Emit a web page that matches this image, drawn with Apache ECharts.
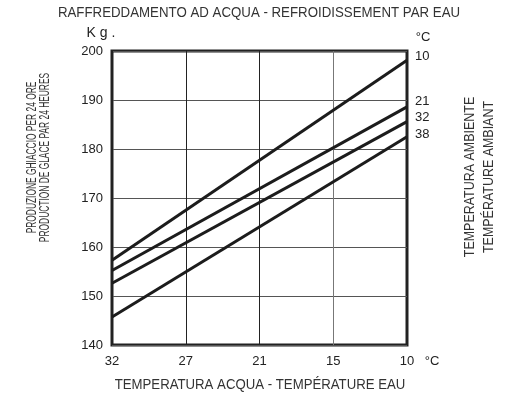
<!DOCTYPE html>
<html><head><meta charset="utf-8">
<script src="https://cdn.jsdelivr.net/npm/echarts@6/dist/echarts.min.js"></script>
<style>html,body{margin:0;padding:0;background:#fff}#c{width:507px;height:399px}</style>
</head><body><div id="c"></div>
<script>
var xTicks = [32, 27, 21, 15, 10];
var ambient = ['10', '21', '32', '38'];
var at32 = [157.3, 155.2, 152.6, 145.7];
var at10 = [198.1, 188.6, 185.6, 182.5];
var yTicks = [140, 150, 160, 170, 180, 190, 200];

var reg = '"Liberation Sans", Arial, sans-serif';
var offs = [[0,-4],[0,-5],[0,-4],[0,-2]];
var series = ambient.map(function (name, i) {
  return {
    name: name, type: 'line', showSymbol: false, symbol: 'none',
    lineStyle: { color: '#1c1c1c', width: 3 },
    data: [[xTicks.indexOf(32), at32[i]], [xTicks.indexOf(10), at10[i]]],
    endLabel: { show: true, formatter: name, color: '#222', fontFamily: reg, fontSize: 13, distance: 8, offset: offs[i] },
    silent: true, animation: false
  };
});
var chart = echarts.init(document.getElementById('c'));
chart.setOption({
  animation: false,
  grid: { left: 112, right: 100, top: 51, bottom: 54, show: true, borderColor: '#222', borderWidth: 3, backgroundColor: 'transparent' },
  xAxis: {
    type: 'value', min: 0, max: 4, interval: 1,
    axisLine: { show: false }, axisTick: { show: false },
    axisLabel: { color: '#222', fontFamily: reg, fontSize: 13, margin: 10, formatter: function (v) { return xTicks[v]; } },
    splitLine: { show: true, lineStyle: { color: ['#222', '#222', '#222', '#777', '#222'], width: 1 } }
  },
  yAxis: {
    type: 'value', min: yTicks[0], max: yTicks[yTicks.length - 1], interval: 10,
    axisLine: { show: false }, axisTick: { show: false },
    axisLabel: { color: '#222', fontFamily: reg, fontSize: 13, margin: 9 },
    splitLine: { show: true, lineStyle: { color: '#555', width: 1.2 } }
  },
  series: series,
  graphic: [
    { type: 'text', x: 259, y: 13, scaleX: 0.885, style: { text: 'RAFFREDDAMENTO AD ACQUA - REFROIDISSEMENT PAR EAU', font: '15px ' + reg, fill: '#333', textAlign: 'center', textVerticalAlign: 'middle' } },
    { type: 'text', x: 101, y: 33, style: { text: 'K g .', font: '14px ' + reg, fill: '#222', textAlign: 'center', textVerticalAlign: 'middle' } },
    { type: 'text', x: 423, y: 37, style: { text: '°C', font: '13px ' + reg, fill: '#222', textAlign: 'center', textVerticalAlign: 'middle' } },
    { type: 'text', x: 432, y: 361, style: { text: '°C', font: '13px ' + reg, fill: '#222', textAlign: 'center', textVerticalAlign: 'middle' } },
    { type: 'text', x: 260, y: 385, scaleX: 0.88, style: { text: 'TEMPERATURA ACQUA - TEMPÉRATURE EAU', font: '15px ' + reg, fill: '#333', textAlign: 'center', textVerticalAlign: 'middle' } },
    { type: 'text', x: 38.5, y: 157.5, rotation: Math.PI / 2, scaleX: 0.6, style: { text: 'PRODUZIONE GHIACCIO PER 24 ORE\nPRODUCTION DE GLACE PAR 24 HEURES', font: '14px ' + reg, lineHeight: 13, fill: '#333', textAlign: 'center', textVerticalAlign: 'middle' } },
    { type: 'text', x: 480, y: 177, rotation: Math.PI / 2, scaleX: 0.89, style: { text: 'TEMPERATURA AMBIENTE\nTEMPÉRATURE AMBIANT', font: '14px ' + reg, lineHeight: 19, fill: '#333', textAlign: 'center', textVerticalAlign: 'middle' } }
  ]
});
</script></body></html>
